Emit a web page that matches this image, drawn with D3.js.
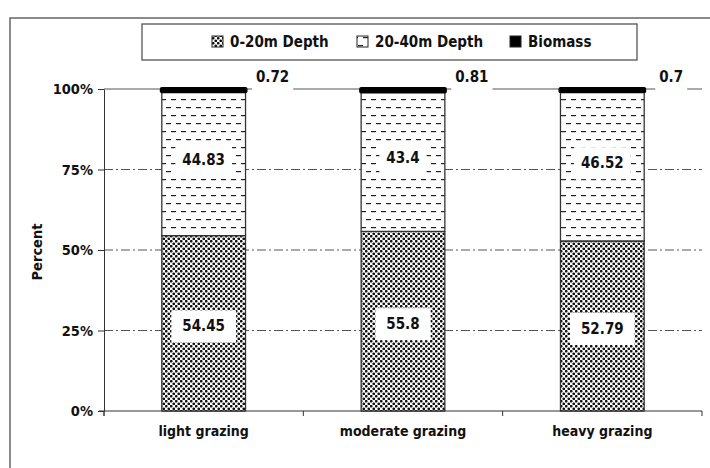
<!DOCTYPE html>
<html>
  <head>
    <meta charset="UTF-8" />
    <script src="https://d3js.org/d3.v7.min.js"></script>
    <style>
      body { margin: 0; background: #fff; }
      text { font-family: "DejaVu Sans Condensed", "DejaVu Sans", sans-serif; font-weight: bold; fill: #111; }
    </style>
  </head>
  <body>
    <svg width="710" height="468"></svg>

    <script>
      // data
      const categories = ["light grazing", "moderate grazing", "heavy grazing"];
      const depth0to20 = [54.45, 55.8, 52.79];
      const depth20to40 = [44.83, 43.4, 46.52];
      const biomass = [0.72, 0.81, 0.7];
      const seriesNames = ["0-20m Depth", "20-40m Depth", "Biomass"];
      const yTicks = [0, 25, 50, 75, 100];

      const svg = d3.select("svg");

      // patterns
      const defs = svg.append("defs");
      const dots = defs.append("pattern")
        .attr("id", "dots").attr("patternUnits", "userSpaceOnUse")
        .attr("width", 5).attr("height", 5);
      dots.append("rect").attr("width", 5).attr("height", 5).attr("fill", "#fff");
      dots.append("circle").attr("cx", 1.25).attr("cy", 1.25).attr("r", 1.35).attr("fill", "#111");
      dots.append("circle").attr("cx", 3.75).attr("cy", 3.75).attr("r", 1.35).attr("fill", "#111");

      const dashes = defs.append("pattern")
        .attr("id", "dashes").attr("patternUnits", "userSpaceOnUse")
        .attr("width", 10).attr("height", 16);
      dashes.append("rect").attr("width", 10).attr("height", 16).attr("fill", "#fff");
      dashes.append("rect").attr("x", 1).attr("y", 3).attr("width", 5).attr("height", 1.2).attr("fill", "#222");
      dashes.append("rect").attr("x", 6).attr("y", 11).attr("width", 5).attr("height", 1.2).attr("fill", "#222");
      dashes.append("rect").attr("x", -4).attr("y", 11).attr("width", 5).attr("height", 1.2).attr("fill", "#222");

      const fills = ["url(#dots)", "url(#dashes)", "#000"];

      // outer frame
      svg.append("path")
        .attr("d", "M10,468 V18 H712")
        .attr("fill", "none").attr("stroke", "#666").attr("stroke-width", 1.5);

      const x = d3.scaleBand().domain(categories).range([104, 702]).padding(0);
      const y = d3.scaleLinear().domain([0, 100]).range([411, 89]);
      const barW = x.bandwidth() * 0.42;
      const barX = c => x(c) + (x.bandwidth() - barW) / 2;

      // gridlines
      svg.append("g").selectAll("line")
        .data(yTicks.filter(t => t > 0))
        .join("line")
        .attr("x1", 104).attr("x2", 702)
        .attr("y1", d => y(d)).attr("y2", d => y(d))
        .attr("stroke", "#555").attr("stroke-width", 1)
        .attr("stroke-dasharray", d => d === 100 ? null : "9,3,2,3");

      // axes
      const yAxis = svg.append("g").attr("transform", "translate(104,0)")
        .call(d3.axisLeft(y).tickValues(yTicks).tickSize(6).tickSizeOuter(0).tickFormat(d => d + "%"));
      yAxis.select(".domain").attr("stroke", "#333");
      yAxis.selectAll(".tick line").attr("stroke", "#333");
      yAxis.selectAll(".tick text").attr("x", -11).attr("font-size", 14.5)
        .attr("font-family", "DejaVu Sans Condensed, DejaVu Sans, sans-serif").attr("font-weight", "bold").attr("fill", "#111");
      yAxis.append("line").attr("x1", 0).attr("x2", 0).attr("y1", 411).attr("y2", 416).attr("stroke", "#333");

      const xAxis = svg.append("g").attr("transform", "translate(0,411)");
      xAxis.append("line").attr("x1", 99).attr("x2", 702).attr("stroke", "#333");
      xAxis.selectAll(".tk")
        .data(categories.map(c => x(c)).concat([702]))
        .join("line").attr("class", "tk")
        .attr("x1", d => d).attr("x2", d => d).attr("y1", 0).attr("y2", 5).attr("stroke", "#333");
      xAxis.selectAll("text")
        .data(categories).join("text")
        .attr("x", c => x(c) + x.bandwidth() / 2).attr("y", 25)
        .attr("text-anchor", "middle")
        .attr("font-size", 14)
        .text(c => c);

      svg.append("text")
        .attr("transform", "translate(42,252) rotate(-90)")
        .attr("text-anchor", "middle").attr("font-size", 14.5)
        .text("Percent");

      // stacked bars
      const rows = categories.map((c, i) => ({ cat: c, s0: depth0to20[i], s1: depth20to40[i], s2: biomass[i] }));
      const stack = d3.stack().keys(["s0", "s1", "s2"])(rows);

      stack.forEach((layer, k) => {
        svg.append("g").selectAll("rect")
          .data(layer).join("rect")
          .attr("x", d => barX(d.data.cat))
          .attr("width", barW)
          .attr("y", d => y(d[1]))
          .attr("height", d => y(d[0]) - y(d[1]))
          .attr("fill", fills[k])
          .attr("stroke", k === 2 ? "#000" : "#333")
          .attr("stroke-width", k === 2 ? 4 : 1.3)
          .attr("stroke-linejoin", "round");
      });

      // value labels with white boxes
      function boxLabel(g, tx, ty, txt, size, padX, padY) {
        const t = g.append("text").attr("x", tx).attr("y", ty)
          .attr("text-anchor", "middle").attr("dominant-baseline", "central")
          .attr("font-size", size).text(txt);
        const b = t.node().getBBox();
        g.insert("rect", "text")
          .attr("x", b.x - padX).attr("y", b.y - padY)
          .attr("width", b.width + 2 * padX).attr("height", b.height + 2 * padY)
          .attr("fill", "#fff");
      }

      const labels = svg.append("g");
      stack.slice(0, 2).forEach((layer, k) => {
        layer.forEach(d => {
          const g = labels.append("g");
          boxLabel(g, x(d.data.cat) + x.bandwidth() / 2, (y(d[0]) + y(d[1])) / 2 + (k === 0 ? 3 : -3),
            d.data[k === 0 ? "s0" : "s1"], 15, k === 0 ? 11 : 7, 7);
        });
      });
      stack[2].forEach(d => {
        const g = labels.append("g");
        boxLabel(g, barX(d.data.cat) + barW + 27, y(d[1]) - 12, d.data.s2, 15, 4, 6);
      });

      // legend
      svg.append("rect").attr("x", 142).attr("y", 24).attr("width", 495).attr("height", 36)
        .attr("fill", "#fff").attr("stroke", "#555").attr("stroke-width", 1.3);
      const legX = [212, 357, 510];
      const leg = svg.append("g").selectAll("g").data(seriesNames).join("g")
        .attr("transform", (d, i) => `translate(${legX[i]},42)`);
      leg.append("rect").attr("x", 0).attr("y", -6).attr("width", 11).attr("height", 11)
        .attr("fill", (d, i) => fills[i]).attr("stroke", "#222").attr("stroke-width", 1);
      leg.append("text").attr("x", 18).attr("y", 0)
        .attr("dominant-baseline", "central").attr("font-size", 15)
        .text(d => d);
    </script>
  </body>
</html>
